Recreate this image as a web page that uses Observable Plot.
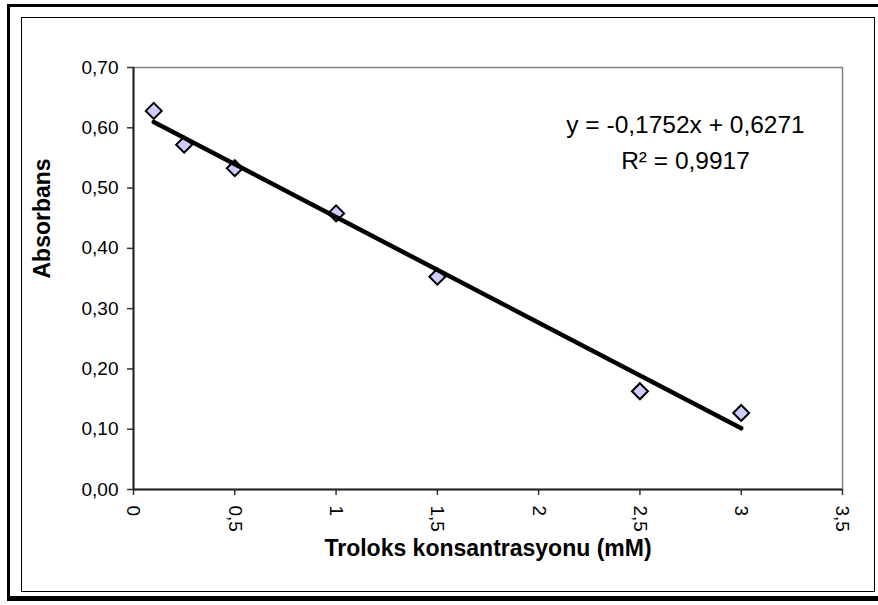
<!DOCTYPE html>
<html><head><meta charset="utf-8">
<script src="https://cdn.jsdelivr.net/npm/d3@7"></script>
<script src="https://cdn.jsdelivr.net/npm/@observablehq/plot@0.6"></script>
<style>
html,body{margin:0;padding:0;background:#fff;overflow:hidden;}
#wrap{position:relative;width:878px;height:605px;overflow:hidden;}
#chart{position:absolute;left:0;top:0;}
.outer{position:absolute;left:7px;top:4px;width:900px;height:597px;box-sizing:border-box;border-left:3.5px solid #000;border-top:3.5px solid #000;border-bottom:5px solid #000;border-right:3px solid #000;pointer-events:none;}
.inner{position:absolute;left:21px;top:17px;width:854px;height:575px;box-sizing:border-box;border:1px solid #000;pointer-events:none;}
</style>
</head><body>
<div id="wrap"><div id="chart"></div><div class="outer"></div><div class="inner"></div></div>
<script>
// Data
const concentration = [0.1, 0.25, 0.5, 1, 1.5, 2.5, 3];
const absorbance = [0.628, 0.572, 0.533, 0.458, 0.353, 0.163, 0.127];
// Trendline as printed on the chart
const trendRange = [0.1, 3];
const slope = -0.1752;
const intercept = 0.6271;
const rSquared = 0.9917;
// Axes
const xTicks = [0, 0.5, 1, 1.5, 2, 2.5, 3, 3.5];
const yTicks = [0, 0.1, 0.2, 0.3, 0.4, 0.5, 0.6, 0.7];
const xTitle = "Troloks konsantrasyonu (mM)";
const yTitle = "Absorbans";

const comma = s => String(s).replace(".", ",");
const fmtX = d => comma(d);
const fmtY = d => comma(d3.format(".2f")(d));
const points = concentration.map((c, i) => ({c, a: absorbance[i]}));
const equation = `y = ${comma(slope)}x + ${comma(intercept)}\nR² = ${comma(rSquared)}`;
const font = "'Liberation Sans', Arial, sans-serif";

const chart = Plot.plot({
  width: 878, height: 605,
  marginLeft: 133, marginRight: 36, marginTop: 67, marginBottom: 116,
  style: {fontFamily: font, fontSize: "19px", color: "#000", background: "transparent", overflow: "visible"},
  x: {domain: [0, 3.5]},
  y: {domain: [0, 0.7]},
  marks: [
    Plot.frame({stroke: "#808080", strokeWidth: 1.5}),
    Plot.axisY({ticks: yTicks, tickFormat: fmtY, tickSize: 6, tickPadding: 9, label: null, stroke: "#333", strokeWidth: 1.5}),
    Plot.axisX({ticks: xTicks, tickFormat: fmtX, tickSize: 6, tickPadding: 10, tickRotate: 90, label: null, stroke: "#333", strokeWidth: 1.5}),
    Plot.ruleX([0], {stroke: "#222", strokeWidth: 2}),
    Plot.ruleY([0], {stroke: "#222", strokeWidth: 2}),
    Plot.dot(points, {x: "c", y: "a", symbol: "diamond2", r: 7.2, fill: "#ccccff", stroke: "#000", strokeWidth: 2}),
    Plot.line(trendRange, {x: d => d, y: d => slope * d + intercept, stroke: "#000", strokeWidth: 4.5, strokeLinecap: "round"}),
    Plot.text([equation], {frameAnchor: "top-right", dx: -157, dy: 39, lineAnchor: "top", textAnchor: "middle", fontSize: 24.5, lineHeight: 1.5, fill: "#000"}),
    Plot.text([yTitle], {frameAnchor: "left", dx: -91, rotate: -90, fontSize: 23, fontWeight: "bold", fill: "#000"}),
    Plot.text([xTitle], {frameAnchor: "bottom", dy: 66, fontSize: 23, fontWeight: "bold", fill: "#000"})
  ]
});
document.getElementById("chart").appendChild(chart);
</script>
</body></html>
